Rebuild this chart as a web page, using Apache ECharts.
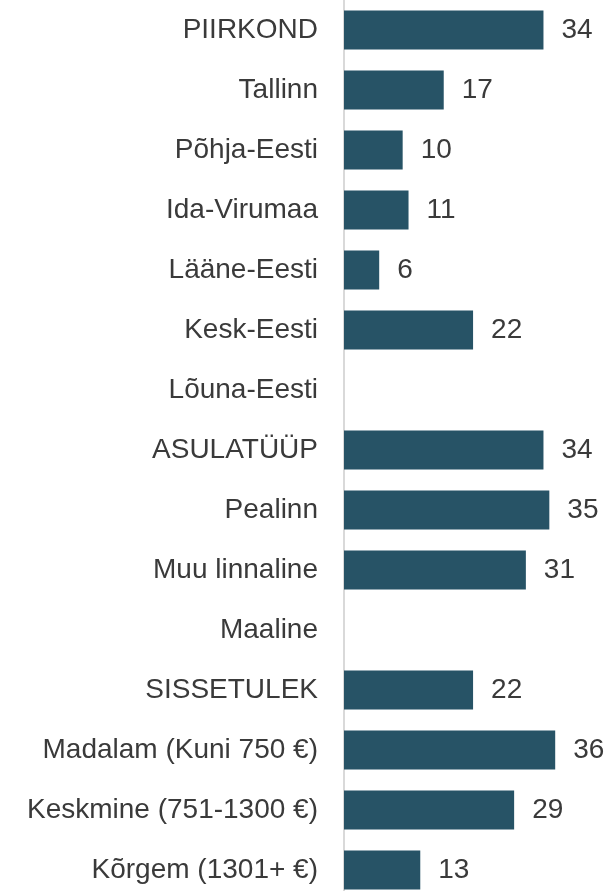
<!DOCTYPE html>
<html>
<head>
<meta charset="utf-8">
<script src="https://cdn.jsdelivr.net/npm/echarts@6/dist/echarts.min.js"></script>
<style>
  html, body { margin: 0; padding: 0; background: #fff; }
  #chart { width: 610px; height: 891px; }
</style>
</head>
<body>
<div id="chart"></div>
<script>
var categories = ['PIIRKOND', 'Tallinn', 'Põhja-Eesti', 'Ida-Virumaa', 'Lääne-Eesti', 'Kesk-Eesti', 'Lõuna-Eesti',
  'ASULATÜÜP', 'Pealinn', 'Muu linnaline', 'Maaline',
  'SISSETULEK', 'Madalam (Kuni 750 €)', 'Keskmine (751-1300 €)', 'Kõrgem (1301+ €)'];
var values = [34, 17, 10, 11, 6, 22, null, 34, 35, 31, null, 22, 36, 29, 13];

var chart = echarts.init(document.getElementById('chart'));
chart.setOption({
  animation: false,
  grid: { left: 344, width: 264, top: 0, height: 900, outerBoundsMode: 'none' },
  xAxis: {
    type: 'value', min: 0, max: 45, show: false
  },
  yAxis: {
    type: 'category',
    inverse: true,
    data: categories,
    axisLine: { show: true, lineStyle: { color: '#d9d9d9', width: 2 } },
    axisTick: { show: false },
    axisLabel: {
      margin: 26,
      fontFamily: 'Liberation Sans',
      fontSize: 28,
      color: '#3a3a3a'
    }
  },
  series: [{
    type: 'bar',
    data: values,
    barWidth: 39,
    itemStyle: { color: '#275366' },
    label: {
      show: true,
      position: 'right',
      distance: 18,
      fontFamily: 'Liberation Sans',
      fontSize: 28,
      color: '#3a3a3a'
    }
  }]
});
</script>
</body>
</html>
